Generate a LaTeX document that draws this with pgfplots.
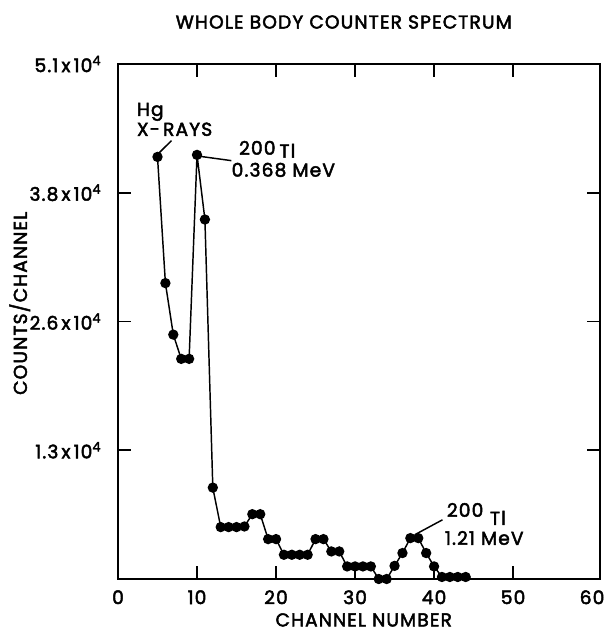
\documentclass[border=0pt]{standalone}
\usepackage{pgfplots}
\pgfplotsset{compat=1.18}
\usepackage{fontspec}
\setmainfont{Poppins}[FakeBold=2.5, LetterSpace=6]
\begin{document}
\begin{tikzpicture}
\path[use as bounding box] (-88.5pt,-39.75pt) rectangle ++(456pt,474pt);
\begin{axis}[
  at={(0,0)}, anchor=south west,
  scale only axis, width=361.5pt, height=386.25pt,
  xmin=0, xmax=61, ymin=0, ymax=51000,
  clip=false,
  axis line style={line width=1.5pt},
  every tick/.style={black, line width=1.2pt},
  major tick length=9.5pt,
  tick align=inside,
  font=\fontsize{14}{16}\selectfont,
  xtick={10,20,30,40,50},
  xticklabels={10,20,30,40,50},
  extra x ticks={0,60},
  extra x tick labels={0,60},
  extra x tick style={major tick length=0pt},
  ytick={12750,25500,38250},
  yticklabels={1.3\,x\,10\textsuperscript{4},2.6\,x\,10\textsuperscript{4},3.8\,x\,10\textsuperscript{4}},
  extra y ticks={51000},
  extra y tick labels={5.1\,x\,10\textsuperscript{4}},
  extra y tick style={major tick length=0pt},
  scaled y ticks=false, scaled x ticks=false,
  xticklabel style={yshift=-5pt},
  yticklabel style={xshift=-9pt},
]
\addplot[black, line width=1.1pt, mark=*, mark size=3.3pt, mark options={fill=black}] coordinates {
(5,41800) (6,29300) (7,24200) (8,21800) (9,21800) (10,42000) (11,35600)
(12,9050) (13,5140) (14,5140) (15,5140) (16,5200) (17,6420) (18,6420)
(19,3950) (20,3950) (21,2400) (22,2400) (23,2400) (24,2400) (25,3950)
(26,3950) (27,2730) (28,2730) (29,1245) (30,1245) (31,1245) (32,1245)
(33,0) (34,0) (35,1300) (36,2570) (37,4050) (38,4050) (39,2570)
(40,1245) (41,200) (42,200) (43,200) (44,200)
};
\draw[line width=1.1pt] (axis cs:4.86,41930) -- (axis cs:6.76,43410);
\draw[line width=1.1pt] (axis cs:9.7,41930) -- (axis cs:14.35,41430);
\draw[line width=1.1pt] (axis cs:37.55,4380) -- (axis cs:41.06,5860);
\node[anchor=base west, inner sep=0pt] at (axis cs:2.37,45870) {Hg};
\node[anchor=base west, inner sep=0pt] at (axis cs:2.37,43890) {X-\,RAYS};
\node[anchor=base west, inner sep=0pt] at (axis cs:15.3,42020) {200};
\node[anchor=base west, inner sep=0pt] at (axis cs:20.4,41730) {Tl};
\node[anchor=base west, inner sep=0pt] at (axis cs:14.35,39850) {0.368 MeV};
\node[anchor=base west, inner sep=0pt] at (axis cs:41.6,6160) {200};
\node[anchor=base west, inner sep=0pt] at (axis cs:47.05,5370) {Tl};
\node[anchor=base west, inner sep=0pt] at (axis cs:41.35,3390) {1.21 MeV};
\node[inner sep=0pt] at (axis cs:28.57,55160) {WHOLE BODY COUNTER SPECTRUM};
\node[inner sep=0pt] at (axis cs:31.1,-4050) {CHANNEL NUMBER};
\node[inner sep=0pt, rotate=90] at (axis cs:-12.44,27300) {COUNTS/CHANNEL};
\end{axis}
\end{tikzpicture}
\end{document}
